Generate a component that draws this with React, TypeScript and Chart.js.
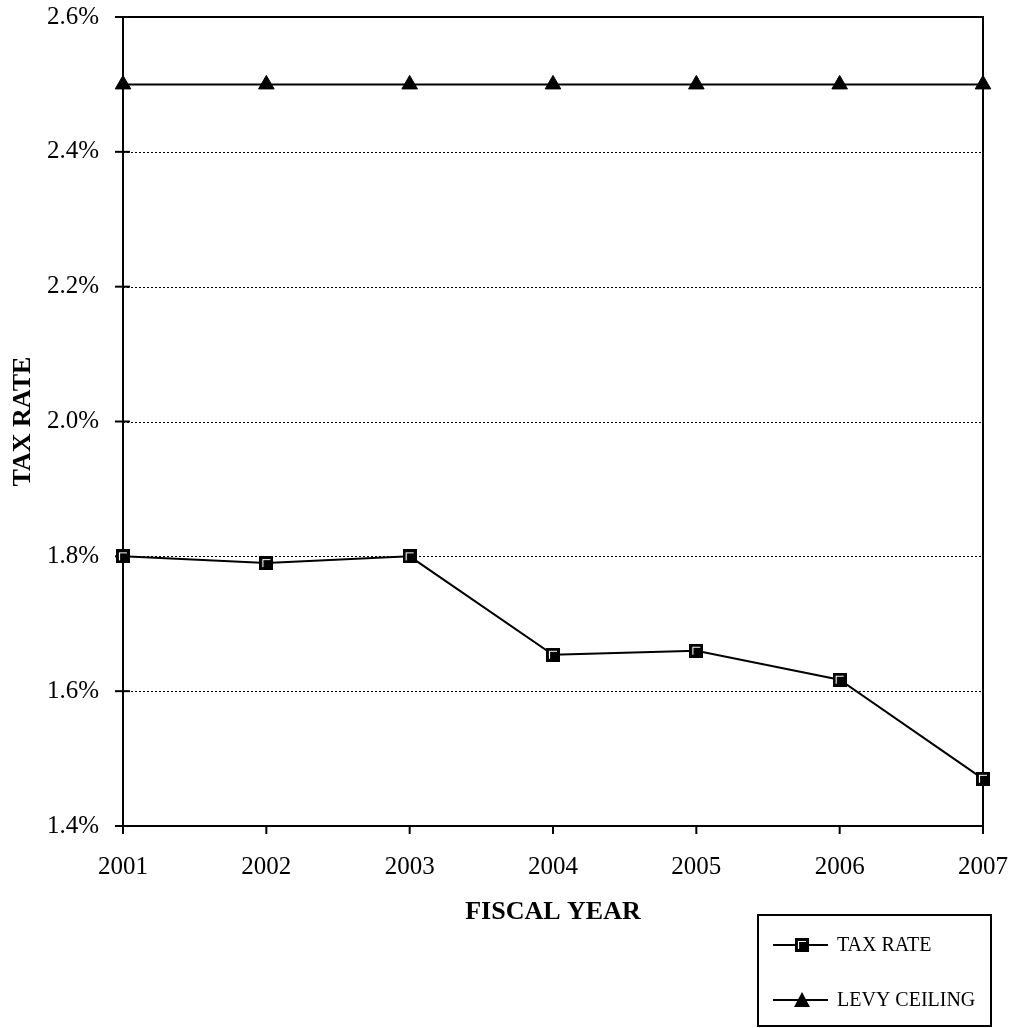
import React, { useEffect, useRef } from "react";
import { Chart, registerables } from "chart.js";

Chart.register(...registerables);

const years = ["2001", "2002", "2003", "2004", "2005", "2006", "2007"];
const taxRate = [1.8, 1.79, 1.8, 1.654, 1.66, 1.617, 1.47];
const levyCeiling = [2.5, 2.5, 2.5, 2.5, 2.5, 2.5, 2.5];
const seriesNames = ["TAX RATE", "LEVY CEILING"];
const yMin = 1.4;
const yMax = 2.6;
const yStep = 0.2;
const xTitle = "FISCAL YEAR";
const yTitle = "TAX RATE";

const SERIF = "'Liberation Serif', 'Times New Roman', serif";

function makeSquareMarker(): HTMLCanvasElement {
  const c = document.createElement("canvas");
  c.width = 14;
  c.height = 14;
  const g = c.getContext("2d")!;
  g.fillStyle = "#000";
  g.fillRect(0, 0, 14, 14);
  g.strokeStyle = "#fff";
  g.lineWidth = 1.2;
  g.beginPath();
  g.moveTo(3.5, 11);
  g.lineTo(3.5, 3.5);
  g.lineTo(11, 3.5);
  g.stroke();
  return c;
}

export default function App() {
  const ref = useRef<HTMLCanvasElement | null>(null);

  useEffect(() => {
    if (!ref.current) return;
    const square = makeSquareMarker();

    const decor = {
      id: "decor",
      beforeDatasetsDraw(chart: any) {
        const { ctx, chartArea } = chart;
        const ys = chart.scales.y;
        const xs = chart.scales.x;
        ctx.save();
        // dotted gridlines
        ctx.strokeStyle = "#000";
        ctx.lineWidth = 1;
        ctx.setLineDash([2, 2]);
        ys.ticks.forEach((t: any) => {
          const py = Math.round(ys.getPixelForValue(t.value)) + 0.5;
          if (py <= chartArea.top + 2 || py >= chartArea.bottom - 2) return;
          ctx.beginPath();
          ctx.moveTo(chartArea.left, py);
          ctx.lineTo(chartArea.right, py);
          ctx.stroke();
        });
        ctx.setLineDash([]);
        // plot border
        ctx.lineWidth = 2;
        ctx.strokeRect(
          chartArea.left,
          chartArea.top,
          chartArea.right - chartArea.left,
          chartArea.bottom - chartArea.top
        );
        // tick marks
        ctx.lineWidth = 2;
        ys.ticks.forEach((t: any) => {
          const py = ys.getPixelForValue(t.value);
          ctx.beginPath();
          ctx.moveTo(chartArea.left - 8, py);
          ctx.lineTo(chartArea.left + 7, py);
          ctx.stroke();
        });
        years.forEach((_, i) => {
          const px = xs.getPixelForValue(i);
          ctx.beginPath();
          ctx.moveTo(px, chartArea.bottom);
          ctx.lineTo(px, chartArea.bottom + 8);
          ctx.stroke();
        });
        ctx.restore();
      },
      afterDraw(chart: any) {
        const { ctx, chartArea } = chart;
        ctx.save();
        ctx.fillStyle = "#000";
        // axis titles
        ctx.font = `bold 26px ${SERIF}`;
        ctx.textAlign = "center";
        ctx.textBaseline = "middle";
        ctx.fillText(xTitle, (chartArea.left + chartArea.right) / 2, 912);
        ctx.save();
        ctx.translate(23, (chartArea.top + chartArea.bottom) / 2);
        ctx.rotate(-Math.PI / 2);
        ctx.fillText(yTitle, 0, 0);
        ctx.restore();
        // legend
        ctx.strokeStyle = "#000";
        ctx.lineWidth = 2;
        ctx.strokeRect(758, 915, 233, 111);
        const rows = [945, 1000];
        ctx.font = `20px ${SERIF}`;
        ctx.textAlign = "left";
        seriesNames.forEach((name, i) => {
          const y = rows[i];
          ctx.beginPath();
          ctx.moveTo(773, y);
          ctx.lineTo(828, y);
          ctx.stroke();
          if (i === 0) {
            ctx.drawImage(square, 802 - 7, y - 7);
          } else {
            ctx.beginPath();
            ctx.moveTo(802, y - 8);
            ctx.lineTo(810, y + 7);
            ctx.lineTo(794, y + 7);
            ctx.closePath();
            ctx.fill();
          }
          ctx.fillText(name, 837, y + 1);
        });
        ctx.restore();
      },
    };

    const chart = new Chart(ref.current, {
      type: "line",
      data: {
        labels: years,
        datasets: [
          {
            label: seriesNames[0],
            data: taxRate,
            borderColor: "#000",
            borderWidth: 2,
            pointStyle: square as any,
            pointRadius: 7,
            tension: 0,
            clip: false as any,
          },
          {
            label: seriesNames[1],
            data: levyCeiling,
            borderColor: "#000",
            backgroundColor: "#000",
            borderWidth: 2,
            pointStyle: "triangle",
            pointRadius: 9,
            pointBackgroundColor: "#000",
            pointBorderColor: "#000",
            pointBorderWidth: 1,
            tension: 0,
            clip: false as any,
          },
        ],
      },
      options: {
        animation: false,
        responsive: false,
        maintainAspectRatio: false,
        events: [],
        layout: { padding: { top: 17, right: 29, left: 0, bottom: 0 } },
        plugins: {
          legend: { display: false },
          tooltip: { enabled: false },
          title: { display: false },
        },
        scales: {
          x: {
            type: "category",
            offset: false,
            grid: { display: false, drawTicks: false },
            border: { display: false },
            ticks: {
              color: "#000",
              font: { family: SERIF, size: 25 },
              padding: 26,
              maxRotation: 0,
              autoSkip: false,
            },
            afterFit(scale: any) {
              scale.height = 202;
              scale.paddingLeft = 0;
              scale.paddingRight = 0;
              scale.paddingTop = 0;
              scale.paddingBottom = 0;
            },
          },
          y: {
            min: yMin,
            max: yMax,
            grid: { display: false, drawTicks: false },
            border: { display: false },
            ticks: {
              stepSize: yStep,
              color: "#000",
              font: { family: SERIF, size: 25 },
              padding: 24,
              callback: (v: any) => Number(v).toFixed(1) + "%",
            },
            afterFit(scale: any) {
              scale.width = 123;
              scale.paddingLeft = 0;
              scale.paddingRight = 0;
              scale.paddingTop = 0;
              scale.paddingBottom = 0;
            },
          },
        },
      },
      plugins: [decor],
    });

    return () => chart.destroy();
  }, []);

  return (
    <div style={{ position: "fixed", left: 0, top: 0, width: 1012, height: 1028, background: "#fff" }}>
      <canvas ref={ref} width={1012} height={1028} style={{ display: "block", width: 1012, height: 1028 }} />
    </div>
  );
}
